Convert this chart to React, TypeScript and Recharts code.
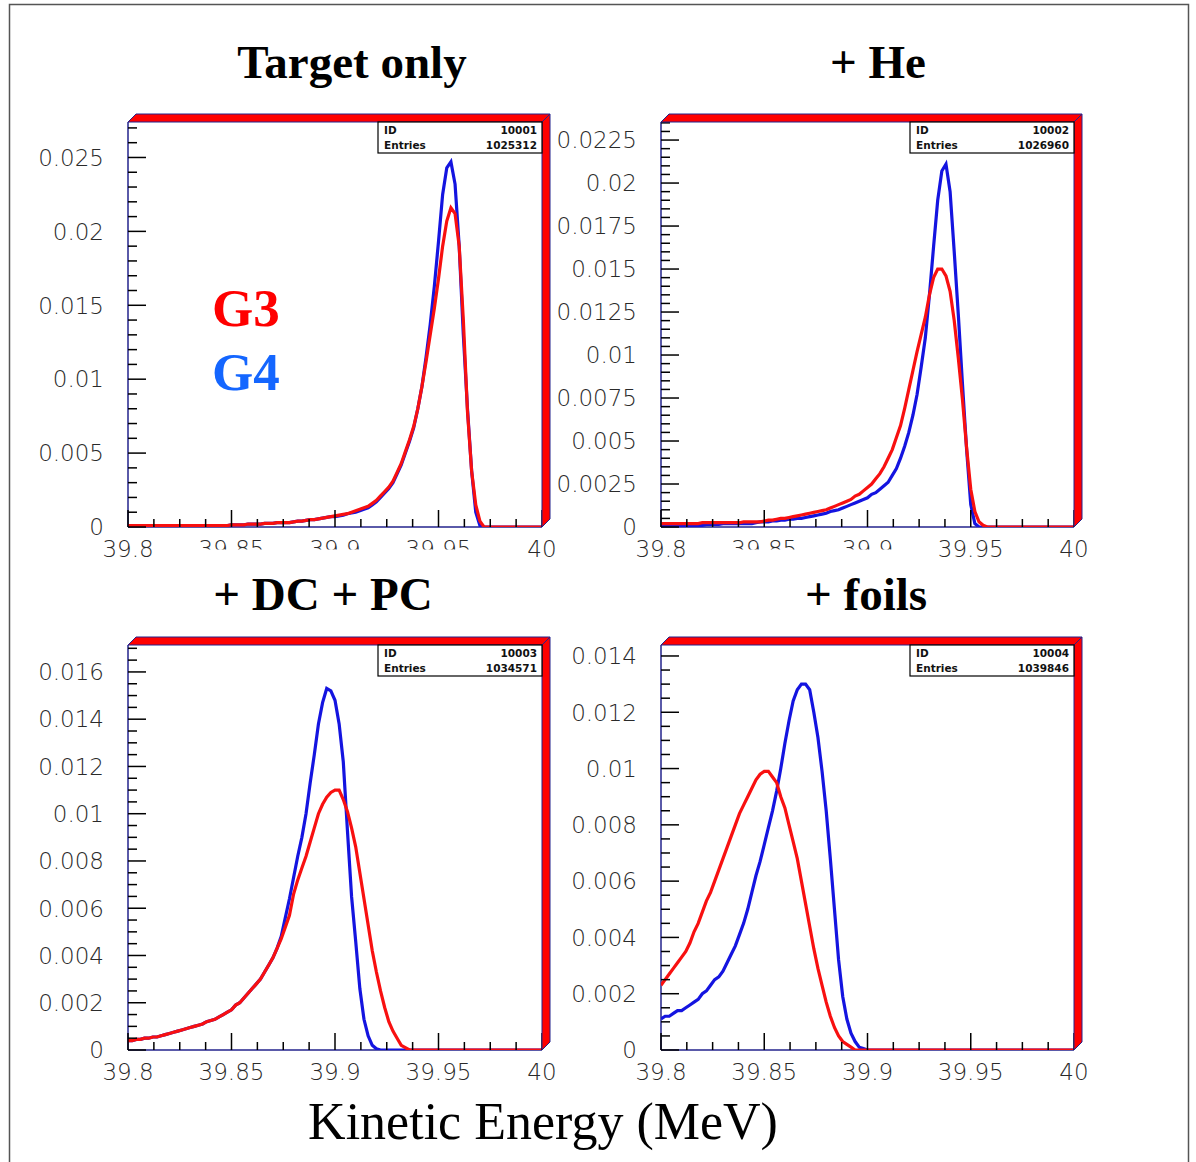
import { LineChart, Line, XAxis, YAxis } from 'recharts';

// bin positions (MeV), 2 keV bins
const ENERGY = [
  39.8, 39.802, 39.804, 39.806, 39.808, 39.81, 39.812, 39.814, 39.816, 39.818,
  39.82, 39.822, 39.824, 39.826, 39.828, 39.83, 39.832, 39.834, 39.836, 39.838,
  39.84, 39.842, 39.844, 39.846, 39.848, 39.85, 39.852, 39.854, 39.856, 39.858,
  39.86, 39.862, 39.864, 39.866, 39.868, 39.87, 39.872, 39.874, 39.876, 39.878,
  39.88, 39.882, 39.884, 39.886, 39.888, 39.89, 39.892, 39.894, 39.896, 39.898,
  39.9, 39.902, 39.904, 39.906, 39.908, 39.91, 39.912, 39.914, 39.916, 39.918,
  39.92, 39.922, 39.924, 39.926, 39.928, 39.93, 39.932, 39.934, 39.936, 39.938,
  39.94, 39.942, 39.944, 39.946, 39.948, 39.95, 39.952, 39.954, 39.956, 39.958,
  39.96, 39.962, 39.964, 39.966, 39.968, 39.97, 39.972, 39.974, 39.976, 39.978,
  39.98, 39.982, 39.984, 39.986, 39.988, 39.99, 39.992, 39.994, 39.996, 39.998,
  40,
];

// Target only
const TARGET_G4 = [
  0, 0, 0, 0, 0, 0, 0, 0, 0, 0,
  0, 0, 0, 0, 0.0001, 0.0001, 0.0001, 0.0001, 0.0001, 0.0001,
  0.0001, 0.0001, 0.0001, 0.0001, 0.0001, 0.00015, 0.00015, 0.00015, 0.00015, 0.0002,
  0.0002, 0.0002, 0.0002, 0.00025, 0.00025, 0.00025, 0.0003, 0.0003, 0.0003, 0.0003,
  0.00035, 0.0004, 0.0004, 0.00045, 0.0005, 0.0005, 0.00055, 0.0006, 0.00065, 0.0007,
  0.0007, 0.00075, 0.0008, 0.0009, 0.00095, 0.001, 0.0011, 0.0012, 0.0013, 0.0015,
  0.0017, 0.002, 0.0023, 0.0026, 0.003, 0.0036, 0.0042, 0.005, 0.0058, 0.0067,
  0.008, 0.0095, 0.0115, 0.0137, 0.0163, 0.0193, 0.0225, 0.0243, 0.0247, 0.0232,
  0.019, 0.013, 0.008, 0.0038, 0.001, 0.0001, 0, 0, 0, 0,
  0, 0, 0, 0, 0, 0, 0, 0, 0, 0,
  0,
];
const TARGET_G3 = [
  0.0001, 0.0001, 0.0001, 0.0001, 0.0001, 0.0001, 0.0001, 0.0001, 0.0001, 0.0001,
  0.0001, 0.0001, 0.0001, 0.0001, 0.0001, 0.0001, 0.0001, 0.0001, 0.0001, 0.0001,
  0.0001, 0.0001, 0.0001, 0.0001, 0.0001, 0.00015, 0.00015, 0.00015, 0.00015, 0.0002,
  0.0002, 0.0002, 0.0002, 0.00025, 0.00025, 0.00025, 0.0003, 0.0003, 0.0003, 0.0003,
  0.00035, 0.0004, 0.0004, 0.00045, 0.0005, 0.0005, 0.00055, 0.0006, 0.00065, 0.0007,
  0.00075, 0.0008, 0.00085, 0.0009, 0.001, 0.0011, 0.0012, 0.0013, 0.0014, 0.0016,
  0.0018, 0.0021, 0.0024, 0.0027, 0.0031, 0.0037, 0.0043, 0.0051, 0.0059, 0.0068,
  0.008, 0.0095, 0.0112, 0.013, 0.0148, 0.0168, 0.019, 0.0207, 0.0216, 0.0212,
  0.019, 0.014, 0.0078, 0.0038, 0.0015, 0.0004, 0, 0, 0, 0,
  0, 0, 0, 0, 0, 0, 0, 0, 0, 0,
  0,
];

// + He
const HE_G4 = [
  0.0001, 0.0001, 0.0001, 0.0001, 0.0001, 0.0001, 0.0001, 0.0001, 0.0001, 0.0001,
  0.0001, 0.00015, 0.00015, 0.00015, 0.00015, 0.0002, 0.0002, 0.0002, 0.0002, 0.0002,
  0.0002, 0.0002, 0.0002, 0.00025, 0.0003, 0.0003, 0.0003, 0.00035, 0.00035, 0.0004,
  0.0004, 0.00045, 0.00045, 0.0005, 0.0005, 0.00055, 0.0006, 0.00065, 0.0007, 0.00075,
  0.0008, 0.0009, 0.00095, 0.001, 0.0011, 0.0012, 0.0013, 0.0014, 0.0015, 0.0016,
  0.0017, 0.0019, 0.002, 0.0022, 0.0024, 0.0026, 0.003, 0.0034, 0.004, 0.0047,
  0.0055, 0.0065, 0.0077, 0.0093, 0.011, 0.0135, 0.0163, 0.019, 0.0207, 0.0211,
  0.0195, 0.016, 0.0123, 0.0083, 0.0045, 0.0013, 0.0002, 0, 0, 0,
  0, 0, 0, 0, 0, 0, 0, 0, 0, 0,
  0, 0, 0, 0, 0, 0, 0, 0, 0, 0,
  0,
];
const HE_G3 = [
  0.0002, 0.0002, 0.0002, 0.0002, 0.0002, 0.0002, 0.0002, 0.0002, 0.0002, 0.0002,
  0.00025, 0.00025, 0.00025, 0.00025, 0.00025, 0.00025, 0.00025, 0.00025, 0.00025, 0.00025,
  0.0003, 0.0003, 0.0003, 0.0003, 0.0003, 0.00035, 0.0004, 0.0004, 0.00045, 0.0005,
  0.0005, 0.00055, 0.0006, 0.00065, 0.0007, 0.00075, 0.0008, 0.00085, 0.0009, 0.00095,
  0.001, 0.0011, 0.0012, 0.0013, 0.0014, 0.0015, 0.0016, 0.0018, 0.0019, 0.0021,
  0.0023, 0.0025, 0.0028, 0.0031, 0.0035, 0.004, 0.0045, 0.0052, 0.0059, 0.0069,
  0.008, 0.0091, 0.0102, 0.0112, 0.0122, 0.0135, 0.0145, 0.015, 0.015, 0.0146,
  0.0137, 0.012, 0.0098, 0.0074, 0.0046, 0.0022, 0.0009, 0.0003, 0.0001, 0,
  0, 0, 0, 0, 0, 0, 0, 0, 0, 0,
  0, 0, 0, 0, 0, 0, 0, 0, 0, 0,
  0,
];

// + DC + PC
const DCPC_G4 = [
  0.0004, 0.0004, 0.00045, 0.00045, 0.0005, 0.0005, 0.00055, 0.00055, 0.0006, 0.00065,
  0.0007, 0.00075, 0.0008, 0.00085, 0.0009, 0.00095, 0.001, 0.00105, 0.0011, 0.0012,
  0.00125, 0.0013, 0.0014, 0.0015, 0.0016, 0.0017, 0.0019, 0.002, 0.0022, 0.0024,
  0.0026, 0.0028, 0.003, 0.0033, 0.0036, 0.0039, 0.0043, 0.0048, 0.0056, 0.0064,
  0.0073, 0.0082, 0.009, 0.01, 0.0113, 0.0125, 0.0138, 0.0147, 0.0153, 0.0152,
  0.0148, 0.0138, 0.0122, 0.0093, 0.0065, 0.0046, 0.0026, 0.0013, 0.0006, 0.0002,
  0.00005, 0, 0, 0, 0, 0, 0, 0, 0, 0,
  0, 0, 0, 0, 0, 0, 0, 0, 0, 0,
  0, 0, 0, 0, 0, 0, 0, 0, 0, 0,
  0, 0, 0, 0, 0, 0, 0, 0, 0, 0,
  0,
];
const DCPC_G3 = [
  0.0004, 0.0004, 0.00045, 0.00045, 0.0005, 0.0005, 0.00055, 0.00055, 0.0006, 0.00065,
  0.0007, 0.00075, 0.0008, 0.00085, 0.0009, 0.00095, 0.001, 0.00105, 0.0011, 0.0012,
  0.00125, 0.0013, 0.0014, 0.0015, 0.0016, 0.0017, 0.0019, 0.002, 0.0022, 0.0024,
  0.0026, 0.0028, 0.003, 0.0033, 0.0036, 0.0039, 0.0043, 0.0047, 0.0052, 0.0057,
  0.0066, 0.0072, 0.0077, 0.0082, 0.0088, 0.0094, 0.01, 0.0104, 0.0107, 0.0109,
  0.011, 0.011, 0.0106, 0.0101, 0.0094, 0.0086, 0.0075, 0.0064, 0.0053, 0.0042,
  0.0033, 0.0025, 0.0018, 0.0012, 0.0008, 0.0005, 0.0002, 0.0001, 0, 0,
  0, 0, 0, 0, 0, 0, 0, 0, 0, 0,
  0, 0, 0, 0, 0, 0, 0, 0, 0, 0,
  0, 0, 0, 0, 0, 0, 0, 0, 0, 0,
  0,
];

// + foils
const FOILS_G4 = [
  0.0011, 0.0012, 0.0012, 0.0013, 0.0014, 0.0014, 0.0015, 0.0016, 0.0017, 0.0018,
  0.002, 0.0021, 0.0023, 0.0025, 0.0026, 0.0028, 0.0031, 0.0034, 0.0037, 0.0041,
  0.0045, 0.005, 0.0056, 0.0062, 0.0067, 0.0073, 0.0079, 0.0085, 0.0092, 0.01,
  0.0109, 0.0117, 0.0124, 0.0128, 0.013, 0.013, 0.0128, 0.012, 0.0111, 0.0099,
  0.0085, 0.0068, 0.005, 0.0032, 0.0019, 0.0011, 0.0006, 0.0003, 0.0001, 0.00005,
  0, 0, 0, 0, 0, 0, 0, 0, 0, 0,
  0, 0, 0, 0, 0, 0, 0, 0, 0, 0,
  0, 0, 0, 0, 0, 0, 0, 0, 0, 0,
  0, 0, 0, 0, 0, 0, 0, 0, 0, 0,
  0, 0, 0, 0, 0, 0, 0, 0, 0, 0,
  0,
];
const FOILS_G3 = [
  0.0023, 0.0025, 0.0027, 0.0029, 0.0031, 0.0033, 0.0035, 0.0038, 0.0042, 0.0045,
  0.0049, 0.0053, 0.0056, 0.006, 0.0064, 0.0068, 0.0072, 0.0076, 0.008, 0.0084,
  0.0087, 0.009, 0.0093, 0.0096, 0.0098, 0.0099, 0.0099, 0.0097, 0.0095, 0.009,
  0.0086, 0.008, 0.0074, 0.0068, 0.006, 0.0052, 0.0044, 0.0036, 0.0029, 0.0023,
  0.0017, 0.0012, 0.0008, 0.0005, 0.0003, 0.0002, 0.0001, 0, 0, 0,
  0, 0, 0, 0, 0, 0, 0, 0, 0, 0,
  0, 0, 0, 0, 0, 0, 0, 0, 0, 0,
  0, 0, 0, 0, 0, 0, 0, 0, 0, 0,
  0, 0, 0, 0, 0, 0, 0, 0, 0, 0,
  0, 0, 0, 0, 0, 0, 0, 0, 0, 0,
  0,
];

const X_MAJOR = [39.8, 39.85, 39.9, 39.95, 40];
const X_LABELS = ['39.8', '39.85', '39.9', '39.95', '40'];
const Y_MAJOR_TARGET = [0, 0.005, 0.01, 0.015, 0.02, 0.025];
const Y_MAJOR_HE = [0, 0.0025, 0.005, 0.0075, 0.01, 0.0125, 0.015, 0.0175, 0.02, 0.0225];
const Y_MAJOR_DCPC = [0, 0.002, 0.004, 0.006, 0.008, 0.01, 0.012, 0.014, 0.016];
const Y_MAJOR_FOILS = [0, 0.002, 0.004, 0.006, 0.008, 0.01, 0.012, 0.014];

const BLUE = '#1414e0';
const RED = '#f81010';
const AXIS = '#23238c';
const LABEL_FONT = '"DejaVu Sans", Arial, sans-serif';
const SERIF = '"Liberation Serif", "Times New Roman", serif';

const AX_W = 120;
const AX_H = 40;
const PAD_T = 20;
const PAD_R = 20;

const PANELS = [
  { key: 'target', x0: 128, y0: 122, x1: 542, y1: 527, yMax: 0.0274, yMajor: Y_MAJOR_TARGET, ySub: 5, g3: TARGET_G3, g4: TARGET_G4, id: '10001', entries: '1025312' },
  { key: 'he', x0: 661, y0: 122, x1: 1074, y1: 527, yMax: 0.02355, yMajor: Y_MAJOR_HE, ySub: 5, g3: HE_G3, g4: HE_G4, id: '10002', entries: '1026960' },
  { key: 'dcpc', x0: 128, y0: 645, x1: 542, y1: 1050, yMax: 0.01714, yMajor: Y_MAJOR_DCPC, ySub: 4, g3: DCPC_G3, g4: DCPC_G4, id: '10003', entries: '1034571' },
  { key: 'foils', x0: 661, y0: 645, x1: 1074, y1: 1050, yMax: 0.01439, yMajor: Y_MAJOR_FOILS, ySub: 4, g3: FOILS_G3, g4: FOILS_G4, id: '10004', entries: '1039846' },
];

const near = (a: number, b: number) => Math.abs(a - b) < 1e-7;

function Panel({ p }: { p: any }) {
  const w = p.x1 - p.x0 + AX_W + PAD_R;
  const h = p.y1 - p.y0 + PAD_T + AX_H;
  const base = h - AX_H;
  const rows = ENERGY.map((e, i) => ({ e, g3: p.g3[i], g4: p.g4[i] }));

  // sub-divided tick positions
  const xTicks: number[] = [];
  for (let k = 0; k <= 16; k++) xTicks.push(+(39.8 + k * 0.0125).toFixed(5));
  const yStep = (p.yMajor[1] - p.yMajor[0]) / p.ySub;
  const yTicks: number[] = [];
  for (let k = 0; k * yStep <= p.yMax + 1e-9; k++) yTicks.push(+(k * yStep).toFixed(6));

  const xTick = (t: any) => {
    const v = t.payload.value;
    const idx = X_MAJOR.findIndex((m) => near(m, v));
    const major = idx >= 0;
    return (
      <g>
        <line x1={t.x} x2={t.x} y1={base} y2={base - (major ? 17 : 8)} stroke="#000" strokeWidth={1.5} />
        {major && (
          <text x={t.x} y={base + 30} textAnchor="middle" fontFamily={LABEL_FONT} fontWeight={200} fontSize={23} fill="#2a2a2a">
            {X_LABELS[idx]}
          </text>
        )}
      </g>
    );
  };

  const yTick = (t: any) => {
    const v = t.payload.value;
    const major = p.yMajor.some((m: number) => near(m, v));
    return (
      <g>
        <line x1={AX_W} x2={AX_W + (major ? 18 : 9)} y1={t.y} y2={t.y} stroke="#000" strokeWidth={1.5} />
        {major && (
          <text x={AX_W - 24} y={t.y} dy="0.36em" textAnchor="end" fontFamily={LABEL_FONT} fontWeight={200} fontSize={23} fill="#2a2a2a">
            {String(+v.toFixed(6))}
          </text>
        )}
      </g>
    );
  };

  return (
    <div style={{ position: 'absolute', left: p.x0 - AX_W, top: p.y0 - PAD_T }}>
      <LineChart width={w} height={h} data={rows} margin={{ top: PAD_T, right: PAD_R, left: 0, bottom: 0 }}>
        <XAxis
          type="number"
          dataKey="e"
          domain={[39.8, 40]}
          ticks={xTicks}
          interval={0}
          allowDataOverflow
          axisLine={false}
          tickLine={false}
          height={AX_H}
          tick={xTick}
        />
        <YAxis
          type="number"
          domain={[0, p.yMax]}
          ticks={yTicks}
          interval={0}
          allowDataOverflow
          axisLine={false}
          tickLine={false}
          width={AX_W}
          tick={yTick}
        />
        <Line type="linear" dataKey="g4" stroke={BLUE} strokeWidth={3.2} dot={false} isAnimationActive={false} />
        <Line type="linear" dataKey="g3" stroke={RED} strokeWidth={3.2} dot={false} isAnimationActive={false} />
      </LineChart>
    </div>
  );
}

export default function App() {
  const d = 8;
  return (
    <div style={{ position: 'absolute', left: 0, top: 0, width: 1196, height: 1162, overflow: 'hidden', background: '#fff' }}>
      <svg width={1196} height={1162} style={{ position: 'absolute', left: 0, top: 0 }}>
        <rect x={9.5} y={4.5} width={1179} height={1180} fill="none" stroke="#555" strokeWidth={1.5} />
        {PANELS.map((p) => (
          <g key={p.key}>
            <line x1={p.x0} x2={p.x0} y1={p.y0} y2={p.y1} stroke={AXIS} strokeWidth={1.5} />
            <line x1={p.x0} x2={p.x1} y1={p.y1} y2={p.y1} stroke={AXIS} strokeWidth={1.5} />
          </g>
        ))}
        <g fontFamily={SERIF} fontWeight="bold" fontSize={47} textAnchor="middle" fill="#000">
          <text x={352} y={78}>Target only</text>
          <text x={878} y={78}>+ He</text>
          <text x={323} y={610}>+ DC + PC</text>
          <text x={866} y={610}>+ foils</text>
        </g>
        <text x={543} y={1139} fontFamily={SERIF} fontSize={52} textAnchor="middle" fill="#000">
          Kinetic Energy (MeV)
        </text>
        <g fontFamily={SERIF} fontWeight="bold" fontSize={53}>
          <text x={212} y={326} fill="#ff0000">G3</text>
          <text x={212} y={390} fill="#1466ff">G4</text>
        </g>
      </svg>
      {PANELS.map((p) => (
        <Panel key={p.key} p={p} />
      ))}
      <svg width={1196} height={1162} style={{ position: 'absolute', left: 0, top: 0, pointerEvents: 'none' }}>
        {PANELS.map((p) => (
          <g key={p.key}>
            <polygon
              points={`${p.x0},${p.y0} ${p.x0 + d},${p.y0 - d} ${p.x1 + d},${p.y0 - d} ${p.x1},${p.y0}`}
              fill="#ff0000"
              stroke={AXIS}
              strokeWidth={1}
            />
            <polygon
              points={`${p.x1},${p.y0} ${p.x1 + d},${p.y0 - d} ${p.x1 + d},${p.y1 - d} ${p.x1},${p.y1}`}
              fill="#ff0000"
              stroke={AXIS}
              strokeWidth={1}
            />
            <rect x={p.x1 - 164} y={p.y0} width={164} height={31} fill="#fff" stroke="#000" strokeWidth={1.2} />
            <g fontFamily={LABEL_FONT} fontSize={10.5} fontWeight="bold" fill="#111">
              <text x={p.x1 - 158} y={p.y0 + 12}>ID</text>
              <text x={p.x1 - 5} y={p.y0 + 12} textAnchor="end">{p.id}</text>
              <text x={p.x1 - 158} y={p.y0 + 27}>Entries</text>
              <text x={p.x1 - 5} y={p.y0 + 27} textAnchor="end">{p.entries}</text>
            </g>
          </g>
        ))}
        {/* the lower titles hide the bottom of some top-row labels */}
        <rect x={185} y={549.5} width={300} height={18} fill="#fff" />
        <rect x={715} y={549.5} width={215} height={18} fill="#fff" />
      </svg>
    </div>
  );
}
